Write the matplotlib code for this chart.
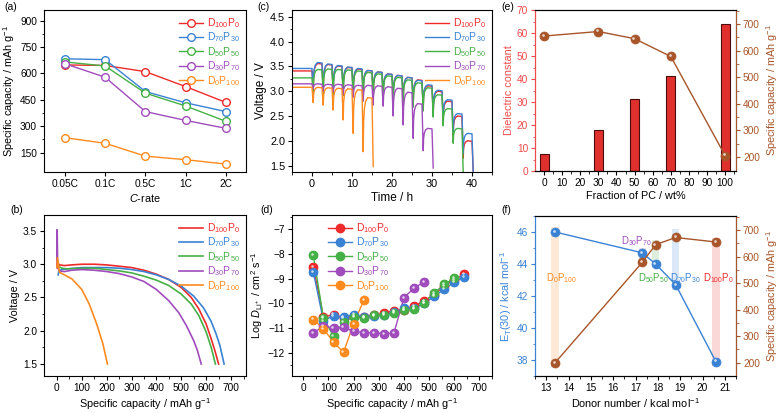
import numpy as np
import matplotlib
matplotlib.use("Agg")
import matplotlib.pyplot as plt
from matplotlib import transforms

plt.rcParams['font.family'] = ['Liberation Sans', 'DejaVu Sans']
plt.rcParams['mathtext.fontset'] = 'custom'
plt.rcParams['mathtext.rm'] = 'Liberation Sans'
plt.rcParams['mathtext.it'] = 'Liberation Sans:italic'
plt.rcParams['font.size'] = 7.3
plt.rcParams['axes.labelsize'] = 7.8
plt.rcParams['axes.linewidth'] = 0.8
plt.rcParams['xtick.major.size'] = 3
plt.rcParams['ytick.major.size'] = 3
plt.rcParams['xtick.minor.size'] = 1.8
plt.rcParams['ytick.minor.size'] = 1.8
plt.rcParams['xtick.major.pad'] = 2
plt.rcParams['ytick.major.pad'] = 2

# ---- data ----
labels = ['D$_{100}$P$_0$', 'D$_{70}$P$_{30}$', 'D$_{50}$P$_{50}$', 'D$_{30}$P$_{70}$', 'D$_0$P$_{100}$']
colors = ['#ee2a2a', '#3a82d4', '#45b045', '#a04cbc', '#ff8a1e']

# (a) rate capability
c_rates = ['0.05C', '0.1C', '0.5C', '1C', '2C']
rate_d100 = [648, 645, 610, 525, 435]
rate_d70 = [683, 678, 497, 433, 383]
rate_d50 = [665, 642, 488, 415, 328]
rate_d30 = [655, 578, 383, 333, 288]
rate_d0 = [235, 203, 130, 110, 85]

# (b) discharge curves
dis_cap_d100 = [0, 3, 10, 30, 60, 100, 150, 200, 250, 300, 350, 400, 450, 500, 540, 570, 600, 620, 635, 650]
dis_v_d100 = [3.12, 3.02, 2.99, 2.98, 2.99, 3.0, 3.0, 2.99, 2.97, 2.95, 2.91, 2.85, 2.77, 2.65, 2.5, 2.33, 2.1, 1.88, 1.7, 1.5]
dis_cap_d70 = [5, 8, 20, 40, 100, 150, 200, 250, 300, 350, 400, 450, 500, 550, 590, 620, 640, 655, 672]
dis_v_d70 = [2.84, 2.9, 2.92, 2.93, 2.95, 2.95, 2.95, 2.94, 2.92, 2.89, 2.84, 2.77, 2.67, 2.52, 2.34, 2.14, 1.95, 1.78, 1.5]
dis_cap_d50 = [0, 5, 20, 40, 100, 150, 200, 250, 300, 350, 400, 450, 500, 540, 570, 600, 620, 637]
dis_v_d50 = [3.0, 2.97, 2.94, 2.93, 2.94, 2.94, 2.92, 2.9, 2.87, 2.82, 2.76, 2.68, 2.55, 2.4, 2.23, 1.98, 1.75, 1.5]
dis_cap_d30 = [0, 1, 3, 10, 30, 60, 100, 150, 200, 250, 300, 350, 400, 450, 490, 520, 550, 565, 580]
dis_v_d30 = [2.95, 3.52, 2.95, 2.9, 2.89, 2.91, 2.92, 2.91, 2.89, 2.86, 2.81, 2.74, 2.62, 2.45, 2.27, 2.08, 1.85, 1.7, 1.5]
dis_cap_d0 = [0, 2, 10, 30, 60, 100, 130, 160, 185, 203]
dis_v_d0 = [2.95, 3.1, 2.88, 2.84, 2.78, 2.62, 2.4, 2.1, 1.8, 1.5]

# (c) GITT: pulse start times, rest voltage, relaxed voltage after each pulse, pulse minimum
gitt_t = [0, 2.5, 5, 7.5, 10, 12.5, 15, 17.5, 20, 22.5, 25, 27.5, 30, 32.5, 35, 37.5, 40]
gitt_rest = [3.41, 3.46, 3.27, 3.15, 3.08]
gitt_top_d100 = [3.56, 3.54, 3.51, 3.48, 3.45, 3.42, 3.39, 3.35, 3.32, 3.28, 3.23, 3.11, 3.0, 2.80, 2.5, 2.0]
gitt_dip_d100 = [2.98, 2.96, 2.94, 2.92, 2.9, 2.88, 2.86, 2.84, 2.81, 2.78, 2.72, 2.64, 2.55, 2.42, 2.1, 1.65, 1.38]
gitt_top_d70 = [3.58, 3.55, 3.52, 3.49, 3.46, 3.42, 3.39, 3.35, 3.32, 3.28, 3.22, 3.13, 3.02, 2.83, 2.55, 2.15]
gitt_dip_d70 = [3.0, 2.97, 2.95, 2.93, 2.92, 2.9, 2.88, 2.86, 2.83, 2.8, 2.74, 2.66, 2.58, 2.45, 2.15, 1.75, 1.38]
gitt_top_d50 = [3.44, 3.45, 3.44, 3.43, 3.41, 3.38, 3.35, 3.31, 3.28, 3.23, 3.17, 3.07, 2.93, 2.65, 2.25]
gitt_dip_d50 = [2.97, 2.95, 2.93, 2.91, 2.89, 2.87, 2.85, 2.82, 2.79, 2.75, 2.68, 2.6, 2.48, 2.3, 1.95, 1.38]
gitt_top_d30 = [3.15, 3.14, 3.14, 3.13, 3.12, 3.12, 3.11, 3.09, 3.06, 2.98, 2.75, 2.25]
gitt_dip_d30 = [3.05, 3.0, 2.98, 2.93, 2.88, 2.8, 2.72, 2.7, 2.5, 2.32, 2.05, 1.8, 1.45]
gitt_top_d0 = [3.08, 3.07, 3.06, 3.05, 3.03, 2.87]
gitt_dip_d0 = [2.77, 2.72, 2.62, 2.42, 2.15, 1.78, 1.48]

# (d) Li+ diffusion coefficient
dli_cap = [40, 80, 120, 160, 200, 240, 280, 320, 360, 400, 440, 480, 520, 560, 600, 640]
dli_d100 = [-8.52, -10.55, -10.45, -10.6, -10.5, -10.55, -10.48, -10.4, -10.3, -10.25, -10.1, -9.9, -9.65, -9.3, -9.05, -8.82]
dli_d70 = [-8.75, -10.7, -10.5, -10.55, -10.45, -10.55, -10.5, -10.45, -10.35, -10.2, -10.2, -10.0, -9.72, -9.42, -9.15, -8.92]
dli_d50 = [-8.06, -10.6, -11.32, -10.75, -10.55, -10.58, -10.48, -10.48, -10.4, -10.28, -10.22, -9.97, -9.58, -9.23, -8.98]
dli_d30 = [-11.2, -10.9, -11.0, -10.97, -11.12, -11.18, -11.18, -11.22, -11.2, -9.77, -9.38, -9.13]
dli_d0 = [-10.65, -11.02, -11.57, -11.97, -10.82, -9.88]

# (e) dielectric constant vs PC fraction
pc_frac = [0, 30, 50, 70, 100]
dielectric = [7.5, 18, 31.5, 41.5, 64]
cap_e = [655, 672, 645, 578, 205]

# (f) donor number
donor = [13.4, 17.3, 17.9, 18.8, 20.6]
et30 = [46.0, 44.7, 44.0, 42.7, 37.9]
cap_f = [200, 578, 645, 672, 655]
f_names = ['D$_0$P$_{100}$', 'D$_{30}$P$_{70}$', 'D$_{50}$P$_{50}$', 'D$_{70}$P$_{30}$', 'D$_{100}$P$_0$']
f_colors = ['#ff8a1e', '#a04cbc', '#45b045', '#3a82d4', '#ee2a2a']
band_lo = [37.6, 43.9, 44.0, 42.4, 37.6]
band_hi = [46.3, 45.0, 45.5, 46.2, 45.6]

brown = '#a8552a'
cap_label = 'Specific capacity / mAh g$^{-1}$'
leg_kw = dict(frameon=False, labelcolor='linecolor', fontsize=7.5, handlelength=2.3,
              handletextpad=0.4, labelspacing=0.06, borderaxespad=0.2)


def sphere(ax, x, y, color, size=6, zorder=3):
    ax.plot(x, y, 'o', color=color, ms=size, mec=color, mew=0.5, zorder=zorder)
    off = transforms.offset_copy(ax.transData, fig=ax.figure, x=-0.8, y=0.8, units='points')
    ax.plot(x, y, 'o', color='white', ms=size * 0.3, mew=0, alpha=0.75, transform=off, zorder=zorder + 0.1)


def gitt_trace(rest, tops, dips):
    t = [-5, gitt_t[0]]
    v = [rest, rest]
    for i, d in enumerate(dips):
        t0 = gitt_t[i]
        t.append(t0 + 0.3)
        v.append(d)
        if i < len(tops):
            top = tops[i]
            t += [t0 + 0.4, t0 + 0.6, t0 + 0.9, t0 + 1.4, gitt_t[i + 1]]
            v += [d + 0.55 * (top - d), d + 0.8 * (top - d), d + 0.93 * (top - d), top, top - 0.01]
    return t, v


fig = plt.figure(figsize=(7.8, 4.13), dpi=100)
W, H = 780, 413


def add_ax(x0, y0, x1, y1):
    return fig.add_axes([x0 / W, 1 - y1 / H, (x1 - x0) / W, (y1 - y0) / H])


ax_a = add_ax(44, 10, 246, 172)
ax_b = add_ax(44, 215, 246, 376)
ax_c = add_ax(292, 10, 492, 172)
ax_d = add_ax(292, 215, 492, 376)
ax_e = add_ax(535, 10, 736, 171)
ax_f = add_ax(535, 216, 736, 376)

# (a)
xa = np.arange(len(c_rates))
for ys, c, lab in zip([rate_d100, rate_d70, rate_d50, rate_d30, rate_d0], colors, labels):
    ax_a.plot(xa, ys, '-o', color=c, mfc='white', mec=c, ms=5.5, mew=1.0, lw=1.0, label=lab)
ax_a.set_xticks(xa)
ax_a.set_xticklabels(c_rates)
ax_a.set_xlim(-0.52, 4.5)
ax_a.set_ylim(40, 960)
ax_a.set_yticks([150, 300, 450, 600, 750, 900])
ax_a.set_yticks([225, 375, 525, 675, 825], minor=True)
ax_a.set_xlabel('$C$-rate', labelpad=2)
ax_a.set_ylabel(cap_label, labelpad=2)
ax_a.legend(loc='upper right', **leg_kw)

# (b)
for xs, ys, c, lab in zip([dis_cap_d100, dis_cap_d70, dis_cap_d50, dis_cap_d30, dis_cap_d0],
                          [dis_v_d100, dis_v_d70, dis_v_d50, dis_v_d30, dis_v_d0], colors, labels):
    ax_b.plot(xs, ys, '-', color=c, lw=1.2, label=lab)
ax_b.set_xlim(-52, 760)
ax_b.set_ylim(1.32, 3.74)
ax_b.set_xticks(range(0, 701, 100))
ax_b.set_xticks(range(50, 751, 100), minor=True)
ax_b.set_yticks([1.5, 2.0, 2.5, 3.0, 3.5])
ax_b.set_yticks([1.75, 2.25, 2.75, 3.25], minor=True)
ax_b.set_xlabel(cap_label, labelpad=2)
ax_b.set_ylabel('Voltage / V', labelpad=2)
ax_b.legend(loc='upper right', **leg_kw)

# (c)
for tops, dips, rest, c, lab in zip([gitt_top_d100, gitt_top_d70, gitt_top_d50, gitt_top_d30, gitt_top_d0],
                                    [gitt_dip_d100, gitt_dip_d70, gitt_dip_d50, gitt_dip_d30, gitt_dip_d0],
                                    gitt_rest, colors, labels):
    t, v = gitt_trace(rest, tops, dips)
    ax_c.plot(t, v, '-', color=c, lw=1.0, label=lab)
ax_c.set_xlim(-5, 45)
ax_c.set_ylim(1.37, 4.64)
ax_c.set_xticks([0, 10, 20, 30, 40])
ax_c.set_xticks([-5, 5, 15, 25, 35, 45], minor=True)
ax_c.set_yticks([1.5, 2.0, 2.5, 3.0, 3.5, 4.0, 4.5])
ax_c.set_yticks(np.arange(1.5, 4.6, 0.25), minor=True)
ax_c.set_xlabel('Time / h', fontsize=8.5, labelpad=2)
ax_c.set_ylabel('Voltage / V', fontsize=8.5, labelpad=2)
ax_c.tick_params(labelsize=7.8)
ax_c.legend(loc='upper right', **leg_kw)

# (d)
for ys, c, lab in zip([dli_d100, dli_d70, dli_d50, dli_d30, dli_d0], colors, labels):
    xs = dli_cap[:len(ys)]
    ax_d.plot(xs, ys, '-', color=c, lw=1.0, label=lab, marker='o', ms=6, mec=c)
    sphere(ax_d, xs, ys, c)
ax_d.set_xlim(-45, 750)
ax_d.set_ylim(-12.93, -6.43)
ax_d.set_xticks(range(0, 701, 100))
ax_d.set_xticks(range(50, 751, 100), minor=True)
ax_d.set_yticks([-12, -11, -10, -9, -8, -7])
ax_d.set_yticks(np.arange(-12.5, -6.4, 1.0), minor=True)
ax_d.set_xlabel(cap_label, labelpad=2)
ax_d.set_ylabel('Log $D_{\\mathrm{Li}^+}$ / cm$^2$ s$^{-1}$', labelpad=2)
ax_d.legend(loc='upper left', bbox_to_anchor=(0.15, 1.0), **leg_kw)

# (e)
red_e = '#f04a4a'
ax_e.bar(pc_frac, dielectric, width=5, color='#e0302e', edgecolor='#4a0c0c', lw=0.8, zorder=2)
ax_e.set_xlim(-5, 106)
ax_e.set_ylim(0, 70)
ax_e.set_xticks(range(0, 101, 10))
ax_e.set_xticks(range(5, 106, 10), minor=True)
ax_e.set_yticks(range(0, 71, 10))
ax_e.set_yticks(range(5, 70, 10), minor=True)
ax_e.set_xlabel('Fraction of PC / wt%', labelpad=2)
ax_e.set_ylabel('Dielectric constant', color=red_e, labelpad=2)
ax_e.tick_params(axis='y', which='both', colors=red_e)
ax_e.spines['left'].set_color(red_e)
ax_e2 = ax_e.twinx()
ax_e2.plot(pc_frac, cap_e, '-', color=brown, lw=1.0)
sphere(ax_e2, pc_frac, cap_e, brown, size=6.5)
ax_e2.set_ylim(147, 753)
ax_e2.set_yticks(range(200, 701, 100))
ax_e2.set_yticks(range(250, 751, 100), minor=True)
ax_e2.set_ylabel(cap_label, color=brown, labelpad=3)
ax_e2.tick_params(axis='y', which='both', colors=brown)
ax_e2.spines['right'].set_color(brown)
ax_e2.spines['left'].set_color(red_e)

# (f)
blue_f = '#3a82d4'
for x, lo, hi, c in zip(donor, band_lo, band_hi, f_colors):
    ax_f.bar(x, hi - lo, bottom=lo, width=0.33, color=c, alpha=0.18, lw=0, zorder=1)
ax_f.plot(donor, et30, '-', color=blue_f, lw=1.0, zorder=3)
sphere(ax_f, donor, et30, blue_f, size=6.5, zorder=4)
ax_f.set_xlim(12.7, 21.5)
ax_f.set_ylim(37.0, 47.0)
ax_f.set_xticks(range(13, 22))
ax_f.set_xticks(np.arange(12.5, 21.6, 1.0), minor=True)
ax_f.set_yticks([38, 40, 42, 44, 46])
ax_f.set_yticks([37, 39, 41, 43, 45, 47], minor=True)
ax_f.set_xlabel('Donor number / kcal mol$^{-1}$', labelpad=2)
ax_f.set_ylabel('E$_\\mathrm{T}$(30) / kcal mol$^{-1}$', color=blue_f, labelpad=2)
ax_f.tick_params(axis='y', which='both', colors=blue_f)
ax_f.spines['left'].set_color(blue_f)
ax_f2 = ax_f.twinx()
ax_f2.plot(donor, cap_f, '-', color=brown, lw=1.0, zorder=3)
sphere(ax_f2, donor, cap_f, brown, size=6.5, zorder=4)
ax_f2.set_ylim(150, 753)
ax_f2.set_yticks(range(200, 701, 100))
ax_f2.set_yticks(range(250, 751, 100), minor=True)
ax_f2.set_ylabel(cap_label, color=brown, labelpad=3)
ax_f2.tick_params(axis='y', which='both', colors=brown)
ax_f2.spines['right'].set_color(brown)
ax_f2.spines['left'].set_color(blue_f)
for name, c, (x, y) in zip(f_names, f_colors,
                           [(13.7, 43.1), (17.05, 45.45), (17.8, 43.1), (19.25, 43.1), (20.7, 43.1)]):
    ax_f.text(x, y, name, color=c, fontsize=6.9, ha='center', va='center', zorder=5)

for lab, (x, y) in zip(['(a)', '(b)', '(c)', '(d)', '(e)', '(f)'],
                       [(4, 7), (10, 210), (257, 7), (260, 210), (501, 7), (501, 210)]):
    fig.text(x / W, 1 - y / H, lab, fontsize=7.5, ha='left', va='center')

fig.savefig('out.png', dpi=100)
